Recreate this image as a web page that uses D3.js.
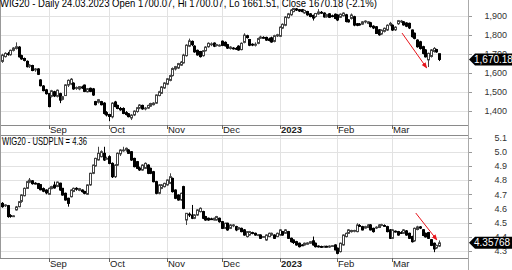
<!DOCTYPE html>
<html><head><meta charset="utf-8">
<script src="https://cdn.jsdelivr.net/npm/d3@7"></script>
<style>body{margin:0;background:#fff}svg{display:block}text{font-family:"Liberation Sans",Arial,sans-serif}</style>
</head><body><svg id="c" width="512" height="270"></svg>
<script>
// ---- WIG20 daily OHLC (Aug 8 2022 .. Mar 24 2023, trading days) ----
const wigOpen=[1660,1685,1700,1695,1718,1728,1735,1690,1675,1660,
1634,1638,1615,1620,1562,1530,1510,1490,1476,1500,
1476,1490,1460,1480,1535,1540,1545,1518,1515,1525,
1535,1500,1518,1515,1448,1445,1448,1440,1390,1380,
1368,1446,1428,1412,1412,1390,1384,1362,1378,1396,
1414,1428,1410,1414,1424,1432,1440,1480,1492,1520,
1540,1560,1585,1620,1625,1640,1652,1690,1740,1765,
1740,1718,1712,1690,1716,1737,1748,1756,1745,1742,
1766,1760,1748,1728,1730,1728,1740,1722,1760,1795,
1775,1750,1745,1755,1782,1786,1786,1778,1784,1765,
1794,1792,1835,1850,1890,1905,1922,1936,1932,1932,
1915,1922,1910,1902,1896,1910,1918,1914,1895,1910,
1900,1908,1904,1892,1900,1905,1878,1886,1895,1858,
1856,1856,1868,1860,1863,1845,1842,1826,1804,1818,
1825,1852,1850,1826,1858,1870,1868,1862,1860,1825,
1808,1772,1763,1737,1720,1668,1686,1712,1722,1700.07];
const wigHigh=[1700,1708,1710,1722,1735,1760,1740,1695,1680,1665,
1645,1642,1625,1624,1566,1535,1515,1494,1510,1505,
1512,1495,1478,1540,1565,1572,1550,1528,1530,1532,
1538,1520,1522,1520,1452,1462,1452,1445,1398,1384,
1445,1452,1432,1420,1418,1398,1388,1382,1402,1420,
1435,1432,1420,1432,1442,1445,1486,1505,1530,1550,
1572,1590,1628,1636,1652,1662,1700,1750,1780,1770,
1745,1722,1715,1720,1740,1760,1760,1760,1752,1750,
1770,1765,1752,1740,1735,1735,1745,1760,1808,1800,
1778,1755,1760,1785,1795,1792,1790,1785,1790,1800,
1805,1845,1860,1898,1915,1935,1942,1940,1935,1936,
1932,1926,1914,1906,1915,1935,1925,1918,1910,1914,
1906,1912,1908,1912,1918,1910,1882,1912,1900,1862,
1862,1872,1876,1872,1868,1850,1846,1830,1828,1838,
1855,1868,1855,1845,1878,1878,1872,1866,1864,1828,
1812,1776,1768,1742,1724,1706,1725,1735,1726,1700.07];
const wigLow=[1652,1680,1690,1690,1712,1722,1680,1668,1660,1628,
1625,1608,1605,1588,1528,1502,1485,1418,1470,1472,
1470,1440,1455,1478,1525,1535,1510,1510,1508,1515,
1498,1496,1498,1478,1428,1438,1428,1380,1370,1345,
1360,1418,1408,1400,1382,1375,1365,1351,1372,1390,
1408,1405,1402,1410,1420,1428,1436,1476,1488,1515,
1535,1555,1580,1612,1620,1636,1648,1685,1735,1740,
1705,1690,1680,1685,1712,1732,1740,1735,1738,1738,
1740,1738,1725,1722,1722,1720,1716,1718,1755,1780,
1740,1740,1738,1750,1778,1780,1768,1765,1758,1760,
1788,1788,1830,1845,1885,1900,1918,1925,1920,1918,
1910,1900,1892,1875,1890,1905,1910,1890,1890,1888,
1892,1882,1872,1888,1896,1865,1864,1880,1845,1845,
1848,1852,1860,1856,1838,1830,1804,1795,1800,1812,
1820,1845,1820,1820,1852,1862,1848,1840,1830,1785,
1776,1732,1722,1697,1680,1630,1680,1706,1705,1661.51];
const wigClose=[1693,1702,1697,1718,1730,1737,1684,1673,1665,1632,
1640,1612,1620,1592,1532,1506,1490,1422,1505,1478,
1508,1456,1474,1536,1560,1566,1515,1522,1527,1520,
1502,1516,1502,1483,1432,1458,1432,1386,1378,1370,
1440,1422,1412,1405,1386,1380,1369,1377,1398,1416,
1430,1410,1414,1428,1438,1440,1483,1500,1525,1546,
1568,1585,1622,1632,1648,1656,1693,1745,1768,1748,
1710,1694,1685,1716,1735,1755,1752,1740,1748,1745,
1744,1742,1730,1735,1728,1726,1720,1755,1798,1785,
1745,1746,1750,1780,1788,1784,1772,1770,1762,1795,
1800,1840,1855,1893,1910,1930,1938,1930,1925,1922,
1928,1905,1896,1888,1912,1920,1915,1894,1906,1892,
1898,1886,1878,1908,1914,1870,1868,1904,1851,1850,
1852,1868,1872,1868,1843,1836,1807,1800,1824,1834,
1850,1860,1825,1840,1874,1872,1852,1845,1836,1790,
1781,1737,1728,1702,1684,1702,1720,1728,1710,1670.18];

// ---- WIG20 / USDPLN ratio OHLC ----
const ratioOpen=[4.636,4.620,4.620,4.550,4.548,4.590,4.613,4.650,4.690,4.742,
4.785,4.795,4.778,4.775,4.768,4.740,4.730,4.700,4.740,4.765,
4.755,4.778,4.742,4.707,4.672,4.683,4.720,4.742,4.728,4.730,
4.720,4.700,4.766,4.848,4.900,4.942,4.965,4.989,4.950,4.965,
4.918,4.824,4.906,4.985,5.008,5.012,5.012,5.000,4.953,4.930,
4.885,4.871,4.883,4.906,4.883,4.859,4.789,4.707,4.742,4.754,
4.766,4.777,4.812,4.730,4.695,4.660,4.754,4.519,4.560,4.554,
4.531,4.554,4.578,4.578,4.543,4.531,4.527,4.519,4.519,4.531,
4.507,4.460,4.496,4.460,4.478,4.472,4.455,4.460,4.449,4.402,
4.413,4.430,4.425,4.413,4.413,4.398,4.378,4.402,4.413,4.413,
4.402,4.413,4.437,4.425,4.437,4.390,4.378,4.366,4.355,4.343,
4.343,4.348,4.355,4.372,4.355,4.335,4.332,4.330,4.333,4.328,
4.336,4.343,4.320,4.296,4.343,4.402,4.425,4.437,4.440,4.437,
4.480,4.472,4.462,4.466,4.484,4.460,4.465,4.466,4.482,4.480,
4.472,4.449,4.390,4.440,4.437,4.430,4.425,4.442,4.425,4.402,
4.372,4.452,4.470,4.450,4.425,4.430,4.380,4.355,4.322,4.335];
const ratioHigh=[4.645,4.630,4.625,4.560,4.552,4.618,4.652,4.700,4.748,4.795,
4.815,4.800,4.785,4.780,4.772,4.748,4.735,4.748,4.760,4.790,
4.790,4.782,4.745,4.712,4.676,4.735,4.748,4.750,4.745,4.735,
4.725,4.770,4.852,4.910,4.958,5.035,5.010,5.035,4.965,4.975,
4.925,4.912,4.995,5.018,5.035,5.030,5.018,5.005,4.958,4.935,
4.895,4.912,4.925,4.912,4.888,4.865,4.795,4.772,4.772,4.782,
4.805,4.848,4.818,4.735,4.700,4.712,4.760,4.566,4.572,4.625,
4.560,4.595,4.608,4.584,4.548,4.536,4.535,4.536,4.548,4.536,
4.512,4.500,4.500,4.490,4.490,4.478,4.470,4.465,4.455,4.440,
4.442,4.436,4.430,4.420,4.418,4.405,4.418,4.430,4.430,4.418,
4.430,4.455,4.442,4.455,4.442,4.395,4.382,4.372,4.360,4.348,
4.360,4.362,4.370,4.402,4.360,4.340,4.338,4.338,4.338,4.340,
4.342,4.348,4.325,4.360,4.418,4.430,4.455,4.450,4.450,4.496,
4.490,4.478,4.478,4.490,4.490,4.465,4.475,4.490,4.492,4.488,
4.478,4.455,4.455,4.445,4.442,4.440,4.455,4.448,4.430,4.408,
4.466,4.478,4.476,4.455,4.430,4.435,4.385,4.360,4.345,4.375];
const ratioLow=[4.605,4.610,4.535,4.535,4.540,4.585,4.608,4.640,4.685,4.738,
4.778,4.768,4.770,4.738,4.728,4.715,4.700,4.695,4.735,4.740,
4.750,4.725,4.690,4.655,4.613,4.678,4.715,4.725,4.722,4.712,
4.700,4.695,4.760,4.842,4.895,4.938,4.960,4.935,4.945,4.912,
4.815,4.815,4.900,4.970,5.000,5.000,4.985,4.935,4.890,4.878,
4.865,4.866,4.878,4.842,4.842,4.784,4.700,4.700,4.736,4.748,
4.760,4.772,4.712,4.666,4.655,4.655,4.595,4.484,4.540,4.525,
4.525,4.548,4.572,4.525,4.513,4.513,4.520,4.515,4.514,4.500,
4.455,4.455,4.443,4.455,4.468,4.440,4.448,4.432,4.408,4.395,
4.408,4.418,4.408,4.405,4.385,4.395,4.372,4.398,4.408,4.385,
4.398,4.408,4.408,4.420,4.385,4.360,4.350,4.338,4.325,4.335,
4.338,4.345,4.350,4.338,4.325,4.325,4.322,4.325,4.326,4.322,
4.330,4.305,4.277,4.290,4.338,4.396,4.420,4.430,4.432,4.432,
4.470,4.445,4.458,4.462,4.445,4.430,4.455,4.462,4.475,4.472,
4.432,4.385,4.385,4.430,4.408,4.420,4.420,4.408,4.385,4.360,
4.365,4.446,4.455,4.405,4.395,4.385,4.335,4.292,4.315,4.328];
const ratioClose=[4.613,4.625,4.543,4.545,4.548,4.611,4.648,4.695,4.742,4.789,
4.800,4.775,4.775,4.742,4.732,4.722,4.710,4.742,4.754,4.745,
4.786,4.730,4.695,4.660,4.636,4.730,4.742,4.736,4.740,4.719,
4.707,4.766,4.848,4.906,4.953,4.989,5.000,4.942,4.953,4.918,
4.824,4.906,4.989,5.012,5.012,5.024,4.989,4.942,4.895,4.883,
4.872,4.906,4.918,4.848,4.848,4.789,4.707,4.766,4.766,4.777,
4.801,4.824,4.719,4.672,4.660,4.707,4.601,4.566,4.554,4.531,
4.554,4.590,4.601,4.531,4.519,4.519,4.526,4.531,4.543,4.507,
4.460,4.496,4.449,4.484,4.484,4.449,4.465,4.437,4.413,4.437,
4.437,4.425,4.413,4.415,4.390,4.402,4.413,4.425,4.425,4.390,
4.425,4.449,4.413,4.449,4.390,4.366,4.360,4.343,4.331,4.340,
4.355,4.357,4.366,4.343,4.331,4.331,4.328,4.333,4.331,4.335,
4.338,4.308,4.284,4.355,4.413,4.425,4.449,4.445,4.445,4.484,
4.475,4.449,4.472,4.484,4.449,4.437,4.468,4.484,4.486,4.478,
4.437,4.390,4.449,4.437,4.413,4.425,4.449,4.413,4.390,4.366,
4.460,4.470,4.462,4.410,4.400,4.390,4.340,4.315,4.340,4.35768];

// ---- axis labels / annotations ----
const monthLabels=["Sep","Oct","Nov","Dec","2023","Feb","Mar"];
const monthIndex=[17,39,60,80,101,122,142];
const wigTicks=[1400,1500,1600,1700,1800,1900];
const ratioTicks=[4.3,4.4,4.5,4.6,4.7,4.8,4.9,5.0,5.1];
const topTitle="WIG20 - Daily 24.03.2023 Open 1700.07, Hi 1700.07, Lo 1661.51, Close 1670.18 (-2.1%)";
const botTitle="WIG20 - USDPLN = 4.36";
const wigArrow=[[145.5,1809],[154.5,1625]];
const ratioArrow=[[150.5,4.568],[158.2,4.378]];

const svg=d3.select("#c");
const plotR=468;
const x=d3.scaleLinear().domain([-0.73,169.5]).range([0,plotR]);
const panels=[
 {o:wigOpen,h:wigHigh,l:wigLow,c:wigClose,ticks:wigTicks,fmt:d3.format(","),last:d3.format(",.2f"),
  y:d3.scaleLinear().domain([1325,1983]).range([125,0]),top:0,bot:125,labelY:133,arrow:wigArrow,lastVal:wigClose[wigClose.length-1]},
 {o:ratioOpen,h:ratioHigh,l:ratioLow,c:ratioClose,ticks:ratioTicks,fmt:d3.format(".1f"),last:d3.format(".5f"),
  y:d3.scaleLinear().domain([4.251,5.118]).range([258,135]),top:135,bot:258,labelY:267,arrow:ratioArrow,lastVal:ratioClose[ratioClose.length-1]}
];

const defs=svg.append("defs");
defs.append("marker").attr("id","ah").attr("viewBox","0 0 10 10").attr("refX",9).attr("refY",5)
 .attr("markerWidth",6).attr("markerHeight",6).attr("orient","auto")
 .append("path").attr("d","M0,1L10,5L0,9Z").attr("fill","#e8141b");

panels.forEach((p,k)=>{
  defs.append("clipPath").attr("id","cp"+k).append("rect")
    .attr("x",0).attr("y",p.top).attr("width",plotR).attr("height",p.bot-p.top);
  const g=svg.append("g");
  g.selectAll("line.hg").data(p.ticks).join("line")
   .attr("x1",0).attr("x2",plotR).attr("y1",d=>Math.round(p.y(d))+0.5).attr("y2",d=>Math.round(p.y(d))+0.5)
   .attr("stroke","#e2e2e2");
  g.selectAll("line.vg").data(monthIndex).join("line")
   .attr("x1",d=>Math.round(x(d))+0.5).attr("x2",d=>Math.round(x(d))+0.5)
   .attr("y1",p.top).attr("y2",p.bot).attr("stroke","#e2e2e2");
  const cg=g.append("g").attr("clip-path",`url(#cp${k})`);
  const idx=d3.range(p.c.length);
  const up=i=>p.c[i]>=p.o[i];
  cg.selectAll("line.w").data(idx).join("line")
   .attr("x1",i=>Math.round(x(i))+0.5).attr("x2",i=>Math.round(x(i))+0.5)
   .attr("y1",i=>p.y(p.h[i])).attr("y2",i=>p.y(p.l[i]))
   .attr("stroke",i=>up(i)?"#444":"#000").attr("stroke-width",1);
  cg.selectAll("rect.b").data(idx).join("rect")
   .attr("x",i=>Math.round(x(i))-0.5).attr("width",2)
   .attr("y",i=>p.y(Math.max(p.o[i],p.c[i])))
   .attr("height",i=>Math.max(0.8,Math.abs(p.y(p.o[i])-p.y(p.c[i]))))
   .attr("fill",i=>up(i)?"#fff":"#000")
   .attr("stroke",i=>up(i)?"#444":"#000").attr("stroke-width",1);
  g.append("line").attr("x1",0).attr("x2",plotR).attr("y1",p.bot+0.5).attr("y2",p.bot+0.5).attr("stroke","#8a8a8a");
  g.selectAll("line.mt").data(monthIndex).join("line")
   .attr("x1",d=>Math.round(x(d))+0.5).attr("x2",d=>Math.round(x(d))+0.5)
   .attr("y1",p.bot).attr("y2",p.bot+4).attr("stroke","#666");
  g.selectAll("text.ml").data(monthLabels).join("text")
   .attr("x",(d,i)=>Math.round(x(monthIndex[i]))+1).attr("y",p.labelY)
   .attr("font-size",9.5).attr("font-weight",d=>d==="2023"?"bold":"normal").attr("fill","#222").text(d=>d);
  g.selectAll("line.yt").data(p.ticks).join("line")
   .attr("x1",plotR).attr("x2",plotR+4).attr("y1",d=>Math.round(p.y(d))+0.5).attr("y2",d=>Math.round(p.y(d))+0.5).attr("stroke","#999");
  g.selectAll("text.yl").data(p.ticks).join("text")
   .attr("x",507).attr("y",d=>p.y(d)+3.3).attr("text-anchor","end")
   .attr("font-size",9).attr("fill","#333").text(d=>p.fmt(d));
  g.append("line").attr("x1",x(p.arrow[0][0])).attr("y1",p.y(p.arrow[0][1]))
   .attr("x2",x(p.arrow[1][0])).attr("y2",p.y(p.arrow[1][1]))
   .attr("stroke","#e8141b").attr("stroke-width",1).attr("marker-end","url(#ah)");
  const yc=p.y(p.lastVal);
  g.append("path").attr("d",`M${plotR+1},${yc}L${plotR+7},${yc-6}L512,${yc-6}L512,${yc+6}L${plotR+7},${yc+6}Z`).attr("fill","#000");
  g.append("text").attr("x",plotR+6).attr("y",yc+3.5).attr("font-size",10).attr("fill","#fff").text(p.last(p.lastVal));
});
svg.append("line").attr("x1",0).attr("x2",plotR).attr("y1",135.5).attr("y2",135.5).attr("stroke","#8a8a8a");
svg.append("line").attr("x1",plotR+0.5).attr("x2",plotR+0.5).attr("y1",0).attr("y2",270).attr("stroke","#aaa");
svg.append("line").attr("x1",0.5).attr("x2",0.5).attr("y1",0).attr("y2",258).attr("stroke","#999");
svg.append("text").attr("x",0).attr("y",7).attr("font-size",10.5).attr("fill","#000")
 .attr("textLength",377).attr("lengthAdjust","spacingAndGlyphs").text(topTitle);
svg.append("text").attr("x",2).attr("y",145).attr("font-size",10.5).attr("fill","#000")
 .attr("textLength",85).attr("lengthAdjust","spacingAndGlyphs").text(botTitle);
</script></body></html>
